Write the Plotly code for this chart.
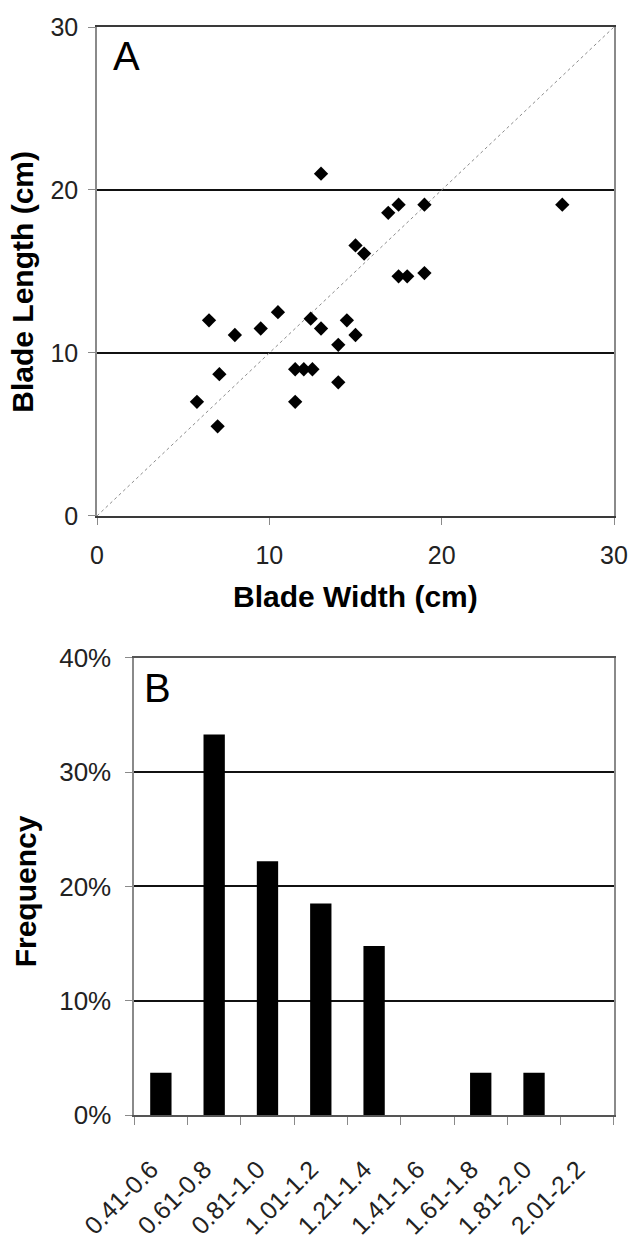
import plotly.graph_objects as go

# ---------------- data ----------------
blade_width = [13, 16.9, 17.5, 19, 27, 15, 15.5, 17.5, 18, 19,
               6.5, 10.5, 8, 9.5, 12.4, 13, 14.5, 15, 14, 7.1,
               11.5, 12, 12.5, 14, 5.8, 11.5, 7]
blade_length = [21, 18.6, 19.1, 19.1, 19.1, 16.6, 16.1, 14.7, 14.7, 14.9,
                12, 12.5, 11.1, 11.5, 12.1, 11.5, 12, 11.1, 10.5, 8.7,
                9, 9, 9, 8.2, 7, 7, 5.5]
identity_line = [0, 30]

ratio_bins = ["0.41-0.6", "0.61-0.8", "0.81-1.0", "1.01-1.2", "1.21-1.4",
              "1.41-1.6", "1.61-1.8", "1.81-2.0", "2.01-2.2"]
frequency_pct = [3.7, 33.3, 22.2, 18.5, 14.8, 0, 3.7, 3.7, 0]

a_ticks = [0, 10, 20, 30]
b_ticks = [0, 10, 20, 30, 40]
b_ticklabels = ["0%", "10%", "20%", "30%", "40%"]

# ---------------- layout helpers (pixel geometry) ----------------
W, H = 640, 1252
L, R, T, B = 97, 15, 17, 109
PW = W - L - R
PH = H - T - B


def px(x):
    return (x - L) / PW


def py(y):
    return (H - B - y) / PH


FONT = "Arial, Liberation Sans, sans-serif"
GRID = "#111111"
FRAME = "#8a8a8a"
HFRAME = "#3a3a3a"
TXT = "#222222"

fig = go.Figure()

fig.add_trace(go.Scatter(
    x=identity_line, y=identity_line, mode="lines",
    line=dict(color="#8c8c8c", width=1, dash="dot"),
    xaxis="x", yaxis="y", showlegend=False, hoverinfo="skip"))

fig.add_trace(go.Scatter(
    x=blade_width, y=blade_length, mode="markers",
    marker=dict(symbol="diamond", size=11, color="black"),
    xaxis="x", yaxis="y", showlegend=False))

fig.add_trace(go.Bar(
    x=ratio_bins, y=frequency_pct, marker=dict(color="black", line=dict(width=0)),
    xaxis="x2", yaxis="y2", showlegend=False))

axis_common = dict(showline=True, linecolor=FRAME, linewidth=1.5, mirror=True,
                   ticks="outside", tickcolor=FRAME, ticklen=7, tickwidth=1,
                   zeroline=False, tickfont=dict(family=FONT, size=25, color=TXT))

fig.update_layout(
    width=W, height=H,
    margin=dict(l=L, r=R, t=T, b=B),
    paper_bgcolor="white", plot_bgcolor="white",
    bargap=0.6,
    xaxis=dict(domain=[0, 1], anchor="y", range=[0, 30], tickvals=a_ticks,
               showgrid=False, ticklabelstandoff=9,
               **{**axis_common, "linecolor": HFRAME, "linewidth": 2}),
    yaxis=dict(domain=[py(523), 1], anchor="x", range=[0, 30], tickvals=a_ticks,
               showgrid=True, gridcolor=GRID, gridwidth=2,
               ticklabelstandoff=5, **axis_common),
    xaxis2=dict(domain=[px(135), 1], anchor="y2", type="category",
                tickson="boundaries", tickangle=-45, showgrid=False,
                tickvals=ratio_bins,
                ticktext=[b + "\u00a0\u00a0" for b in ratio_bins],
                ticklabelstandoff=18,
                **{**axis_common, "tickfont": dict(family=FONT, size=25, color=TXT),
                   "ticklen": 8, "linecolor": "#555555", "linewidth": 2}),
    yaxis2=dict(domain=[0, py(670)], anchor="x2", range=[0, 40], tickvals=b_ticks,
                ticktext=b_ticklabels, showgrid=True, gridcolor=GRID, gridwidth=2,
                ticklabelstandoff=9,
                **{**axis_common, "tickfont": dict(family=FONT, size=26, color=TXT)}),
    annotations=[
        dict(text="A", x=px(111), y=py(47), xref="paper", yref="paper",
             xanchor="left", yanchor="middle", showarrow=False,
             font=dict(family=FONT, size=40, color="black")),
        dict(text="B", x=px(143), y=py(701), xref="paper", yref="paper",
             xanchor="left", yanchor="middle", showarrow=False,
             font=dict(family=FONT, size=40, color="black")),
        dict(text="<b>Blade Width (cm)</b>", x=px(361), y=py(606), xref="paper",
             yref="paper", xanchor="center", yanchor="middle", showarrow=False,
             font=dict(family=FONT, size=30, color="black")),
        dict(text="<b>Blade Length (cm)</b>", x=px(21), y=py(281), xref="paper",
             yref="paper", xanchor="center", yanchor="middle", showarrow=False,
             textangle=-90, font=dict(family=FONT, size=30, color="black")),
        dict(text="<b>Frequency</b>", x=px(24), y=py(912), xref="paper",
             yref="paper", xanchor="center", yanchor="middle", showarrow=False,
             textangle=-90, font=dict(family=FONT, size=30, color="black")),
    ],
)

fig.write_html("out.html",
               config={"displayModeBar": False},
               post_script="document.body.style.margin='0px';"
                           "document.body.style.overflow='hidden';")
